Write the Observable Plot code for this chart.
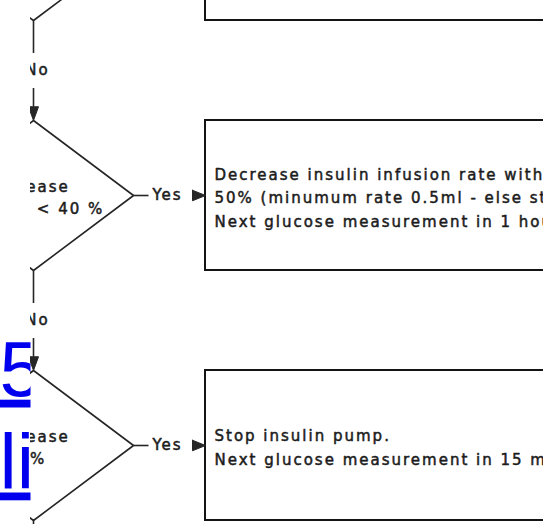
<!DOCTYPE html>
<html>
<head>
<meta charset="utf-8">
<script src="https://cdn.jsdelivr.net/npm/d3@7"></script>
<script src="https://cdn.jsdelivr.net/npm/@observablehq/plot@0.6"></script>
<style>
  html, body { margin: 0; padding: 0; background: #fff; }
  svg { display: block; }
  svg text { letter-spacing: 2px; }
  svg g[aria-description="link"] text { letter-spacing: 0; text-decoration: underline; }
</style>
</head>
<body>
<script>
// ---- data ----
const rows = [0, 1, 2];                       // flowchart step (row) index
const decisionText = [
  "",
  "Decrease\n≥ 20 % / < 40 %",
  "Decrease\n40%"
];
const actionText = [
  "",
  "Decrease insulin infusion rate with\n50% (minumum rate 0.5ml - else stop)\nNext glucose measurement in 1 hour",
  "Stop insulin pump.\nNext glucose measurement in 15 min"
];
const noLabel = "No";
const yesLabel = "Yes";
const linkLines = ["5\nli"];                 // page hyperlink partly hidden behind the image

// ---- layout (diagram units: x in px, y in rows) ----
const cx = 33, DW = 100, DH = 0.3;
const boxX1 = 205, boxX2 = 620, textX = 214;
const ink = "#262626", textInk = "#1c1c1c";
const font = "DejaVu Sans", fs = 15;

const diamondPts = rows.flatMap(r =>
  [[cx, r - DH], [cx + DW, r], [cx, r + DH], [cx - DW, r], [cx, r - DH]]
    .map(([x, y]) => ({r, x, y})));

const vSegs = rows.flatMap(r => [
  {x: cx, y1: r + DH, y2: r + 0.43},
  {x: cx, y1: r + 0.57, y2: r + 0.645}
]);
const vArrows = rows.flatMap(r =>
  [[cx - 5, r + 0.645], [cx + 5, r + 0.645], [cx, r + 1 - DH], [cx - 5, r + 0.645]]
    .map(([x, y]) => ({r, x, y})));

const hSegs = rows.map(r => ({x1: cx + DW, x2: 148, y: r}));
const hArrows = rows.flatMap(r =>
  [[192, r - 0.021], [192, r + 0.021], [boxX1, r], [192, r - 0.021]]
    .map(([x, y]) => ({r, x, y})));

const steps = rows.map(r => ({r, decision: decisionText[r], action: actionText[r]}));

const textStyle = {fontFamily: font, fontSize: fs, fill: textInk, stroke: textInk, strokeWidth: 0.5, clip: true};

const svg = Plot.plot({
  width: 560,
  height: 524,
  marginLeft: 30, marginRight: 17, marginTop: 0, marginBottom: 0,
  x: {domain: [30, 543], axis: null},
  y: {domain: [0.22, 2.316], range: [0, 524], axis: null},
  marks: [
    // hyperlink text behind the image
    Plot.text(linkLines, {
      x: -1, y: 2.172, text: d => d,
      textAnchor: "start", lineAnchor: "bottom",
      fontFamily: "Liberation Sans", fontSize: 78, lineHeight: 1.19,
      fill: "#0000ee", ariaDescription: "link"
    }),
    // image background
    Plot.frame({fill: "white", stroke: "none"}),
    // decision diamonds
    Plot.line(diamondPts, {x: "x", y: "y", z: "r", stroke: ink, strokeWidth: 1.6, clip: true}),
    // action boxes
    Plot.rect(rows, {x1: boxX1, x2: boxX2, y1: r => r - DH, y2: r => r + DH,
      fill: "none", stroke: "#141414", strokeWidth: 2, clip: true}),
    // "No" connectors
    Plot.link(vSegs, {x1: "x", x2: "x", y1: "y1", y2: "y2", stroke: ink, strokeWidth: 1.6, clip: true}),
    Plot.line(vArrows, {x: "x", y: "y", z: "r", fill: ink, stroke: ink, strokeWidth: 1, clip: true}),
    Plot.text(rows, {x: cx + 4, y: r => r + 0.5, text: () => noLabel, ...textStyle}),
    // "Yes" connectors
    Plot.link(hSegs, {x1: "x1", x2: "x2", y1: "y", y2: "y", stroke: ink, strokeWidth: 1.6, clip: true}),
    Plot.line(hArrows, {x: "x", y: "y", z: "r", fill: ink, stroke: ink, strokeWidth: 1, clip: true}),
    Plot.text(rows, {x: 167, y: r => r, text: () => yesLabel, ...textStyle}),
    // decision text
    Plot.text(steps, {x: cx - 7, y: "r", text: "decision", textAnchor: "middle", lineAnchor: "middle",
      lineHeight: 1.47, ...textStyle}),
    // action text
    Plot.text(steps, {x: textX, y: "r", text: "action", textAnchor: "start", lineAnchor: "middle",
      lineHeight: 1.57, ...textStyle})
  ]
});
document.body.appendChild(svg);
</script>
</body>
</html>
